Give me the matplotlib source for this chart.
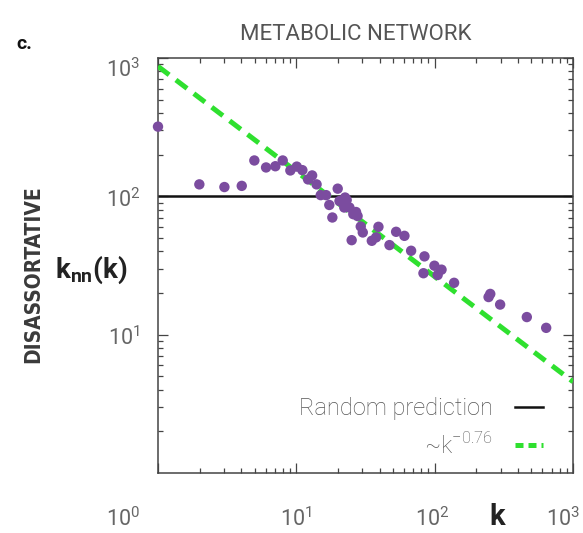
import numpy as np
import matplotlib
matplotlib.use("Agg")
import matplotlib.pyplot as plt
from matplotlib.lines import Line2D

# ---- data ----
k_vals = [1.0, 1.99, 3.02, 4.03, 4.97, 6.04, 7.05, 7.97, 9.05, 10.07, 11.05,
          12.15, 13.0, 14.0, 15.0, 16.4, 17.3, 18.2, 19.9, 20.5, 22.5, 22.2,
          23.1, 24.2, 25.8, 27.0, 27.7, 29.2, 30.2, 25.1, 35.1, 37.7, 39.2,
          47.1, 52.6, 60.4, 67.5, 84.3, 82.9, 99.5, 112, 105, 138, 252, 245,
          297, 463, 639]
knn_vals = [319, 122, 116.7, 119, 181.6, 161.7, 165, 181.6, 153.8, 164, 154.6,
            132.5, 141.6, 122, 102, 102, 86.6, 70.3, 113.6, 92.5, 98, 83,
            94, 83, 74.3, 77, 72, 60.5, 54.8, 48.2, 47.7, 50.5, 60.2,
            44.4, 55.4, 51.8, 40.4, 36.8, 27.8, 31.5, 29.5, 27, 23.7, 19.7, 18.7,
            16.5, 13.4, 11.2]
random_prediction = 100.0
fit_amplitude = 870.0
fit_exponent = -0.76
fit_k = [1.0, 1000.0]
fit_y = [fit_amplitude * kk ** fit_exponent for kk in fit_k]

x_ticks = [1, 10, 100, 1000]
x_tick_labels = [r'$\mathregular{10^{0}}$', r'$\mathregular{10^{1}}$',
                 r'$\mathregular{10^{2}}$', r'$\mathregular{10^{3}}$']
y_ticks = [10, 100, 1000]
y_tick_labels = [r'$\mathregular{10^{1}}$', r'$\mathregular{10^{2}}$',
                 r'$\mathregular{10^{3}}$']

plt.rcParams['mathtext.fontset'] = 'custom'
plt.rcParams['mathtext.rm'] = 'Roboto:weight=light'
plt.rcParams['mathtext.bf'] = 'Roboto:weight=bold'
plt.rcParams['font.family'] = ['Roboto', 'DejaVu Sans']

fig = plt.figure(figsize=(5.83, 5.33), dpi=100)
ax = fig.add_axes([0.271, 0.1126, 0.712, 0.7786])
ax.set_xscale('log')
ax.set_yscale('log')
ax.set_xlim(1, 1000)
ax.set_ylim(1, 1000)

purple = '#7b4c9f'
green = '#2fe02f'

ax.axhline(random_prediction, color='#111111', lw=1.8, zorder=2)
ax.plot(fit_k, fit_y, color=green, lw=3.6, ls=(0, (2.8, 1.7)), zorder=3)
ax.scatter(k_vals, knn_vals, s=56, color=purple, edgecolors='none', zorder=4,
           clip_on=False)

for sp in ax.spines.values():
    sp.set_color('#444444')
    sp.set_linewidth(1.1)

ax.tick_params(which='both', direction='in', top=True, right=True,
               color='#444444', width=0.9, labelbottom=False, labelleft=False)
ax.tick_params(which='major', length=7)
ax.tick_params(which='minor', length=3.8)
ax.set_xticks(x_ticks)
ax.set_yticks(y_ticks)

# tick labels
tick_color = '#666666'
x_offsets = [-35, 0, -3, -10]
for xv, lab, off in zip(x_ticks, x_tick_labels, x_offsets):
    ax.annotate(lab, xy=(xv, 0), xycoords=ax.get_xaxis_transform(),
                xytext=(off * 0.72, -33), textcoords='offset points',
                ha='center', va='center', fontsize=15.5, color=tick_color,
                annotation_clip=False)
y_offsets = [-4, -4, -12]
for yv, lab, off in zip(y_ticks, y_tick_labels, y_offsets):
    ax.annotate(lab, xy=(0, yv), xycoords=ax.get_yaxis_transform(),
                xytext=(-13, off * 0.72), textcoords='offset points',
                ha='right', va='center', fontsize=15.5, color=tick_color,
                annotation_clip=False)

# labels
fig.text(497 / 583, 1 - 517 / 533, 'k', fontsize=21, fontweight='bold',
         color='#222222', ha='center', va='center')
fig.text(91 / 583, 1 - 270 / 533, r'$\mathbf{k_{nn}(k)}$', fontsize=20,
         color='#222222', ha='center', va='center')
fig.text(33 / 583, 1 - 274 / 533, 'DISASSORTATIVE', fontsize=15,
         fontweight='bold', family='DejaVu Sans', fontstretch='condensed',
         rotation=90, color='#3a3a3a', ha='center', va='center')
fig.text(356 / 583, 1 - 35 / 533, 'METABOLIC NETWORK', fontsize=16,
         fontweight='normal', color='#555555', ha='center', va='center')
fig.text(24 / 583, 1 - 44 / 533, 'c.', fontsize=14, fontweight='bold',
         color='#111111', ha='center', va='center')

handles = [Line2D([], [], color='#111111', lw=1.8),
           Line2D([], [], color=green, lw=3.6, ls=(0, (1.6, 1.0)))]
labels = ['Random prediction', r'~k$^{-0.76}$']
leg = ax.legend(handles, labels, loc='lower right',
                bbox_to_anchor=(0.928, 0.035), frameon=False, markerfirst=False,
                fontsize=17, handlelength=1.2, handletextpad=0.93,
                labelspacing=0.52, borderpad=0, borderaxespad=0)
for t in leg.get_texts():
    t.set_color('#555555')
    t.set_fontweight('light')

fig.savefig('out.png', dpi=100)
